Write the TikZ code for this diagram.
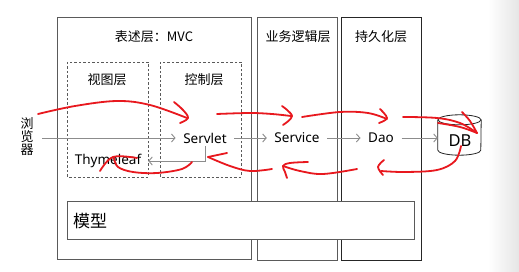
\documentclass[tikz,border=0pt]{standalone}
\usepackage{fontspec}
\setmainfont{Noto Sans}
\newfontfamily\cjk{Noto Sans CJK SC}
\usetikzlibrary{arrows.meta}
\definecolor{pen}{RGB}{232,24,30}
\definecolor{frame}{RGB}{90,90,90}
\definecolor{flowgray}{RGB}{140,140,140}
\begin{document}
\begin{tikzpicture}[x=1pt,y=-1pt,
  layer/.style={draw=frame,line width=0.9pt},
  sublayer/.style={draw=frame,dashed,line width=0.7pt,dash pattern=on 2.5pt off 2pt},
  title/.style={font=\cjk\fontsize{13}{15}\selectfont,inner sep=0pt},
  comp/.style={font=\fontsize{13.5}{15}\selectfont,inner xsep=7.5pt,inner ysep=3pt},
  flow/.style={draw=flowgray,line width=0.9pt,-{Straight Barb[length=3.5pt,width=8pt,line width=0.9pt]}},
  dbline/.style={draw=black!85,line width=0.8pt},
  ink/.style={draw=pen,line width=1.8pt,line cap=round,line join=round}]
\useasboundingbox (0,0) rectangle (519,272);
\fill[white] (0,0) rectangle (519,272);
\shade[left color=white,right color=black!10] (488,0) rectangle (519,272);

% layers
\draw[layer] (57,17) rectangle (251,259);
\draw[layer] (257,17) rectangle (337,260);
\draw[layer,draw=black!85] (341,17) rectangle (421,260);
\draw[sublayer] (67,62) rectangle (148,177);
\draw[sublayer] (160,62) rectangle (241,177);
\draw[layer,fill=white] (67,201) rectangle (414,239);

\node[title] (mvc) at (154,37) {表述层：MVC};
\node[title] (biz) at (298,37) {业务逻辑层};
\node[title] (dal) at (381,37) {持久化层};
\node[title] (view) at (107,80) {视图层};
\node[title] (ctrl) at (204,80) {控制层};
\node[title,font=\cjk\fontsize{17}{19}\selectfont,anchor=west] (model) at (73,221) {模型};

% components
\node[title,align=center,inner xsep=8.5pt,font=\cjk\fontsize{13}{13}\selectfont] (browser) at (27,137) {浏\\览\\器};
\node[comp] (servlet) at (205,138) {Servlet};
\node[comp] (service) at (297,138) {Service};
\node[comp] (dao) at (381,138) {Dao};
\node[comp,minimum width=80pt,inner xsep=0pt] (thyme) at (108,161) {Thymeleaf};

% database cylinder
\node[minimum width=43pt,minimum height=40pt,inner sep=0pt] (db) at (459.5,135) {};
\draw[dbline] ([yshift=-5pt]db.north west) -- ([yshift=5pt]db.south west)
  arc[start angle=180,end angle=0,x radius=21.5,y radius=5] -- ([yshift=-5pt]db.north east);
\draw[dbline] ([yshift=-5pt]db.north) ellipse[x radius=21.5,y radius=5];
\node[font=\fontsize{16.5}{18}\selectfont,inner sep=0pt] (dblabel) at (460,141) {DB};

\draw[flow] (browser.east |- servlet) -- (servlet.west);
\draw[flow] (servlet) -- (service);
\draw[flow] (service) -- (dao);
\draw[flow] (dao) -- (db.west |- dao);
\draw[flow] (servlet.south) |- (thyme.east);

% hand-drawn request path
\draw[ink] plot[smooth,tension=0.6] coordinates {(38,114) (75,106) (117,101) (150,105) (187,118)};
\draw[ink] plot[smooth,tension=0.6] coordinates {(174,102) (183,110) (188,118) (180,123)};
\draw[ink] plot[smooth,tension=0.6] coordinates {(217,114) (250,113) (272,114) (291,116)};
\draw[ink] plot[smooth,tension=0.6] coordinates {(282,106) (292,116) (283,125)};
\draw[ink] plot[smooth,tension=0.6] coordinates {(302,117) (340,112) (368,113) (387,119)};
\draw[ink] plot[smooth,tension=0.6] coordinates {(380,109) (387,118) (379,123)};
\draw[ink] plot[smooth,tension=0.6] coordinates {(403,117) (437,118) (460,123) (477,133)};
\draw[ink] plot[smooth,tension=0.6] coordinates {(462,112) (470,121) (477,133)};
\draw[ink] plot[smooth,tension=0.6] coordinates {(438,123) (460,127) (477,133)};
% hand-drawn response path
\draw[ink] plot[smooth,tension=0.6] coordinates {(461,146) (455,161) (437,170) (405,172) (381,171)};
\draw[ink] plot[smooth,tension=0.6] coordinates {(384,160) (378,167) (383,175)};
\draw[ink] plot[smooth,tension=0.6] coordinates {(357,169) (323,174) (300,171) (283,166)};
\draw[ink] plot[smooth,tension=0.6] coordinates {(308,162) (290,163) (283,166) (285,172) (287,178)};
\draw[ink] plot[smooth,tension=0.6] coordinates {(272,169) (250,171) (230,166) (208,157)};
\draw[ink] (227,153) -- (208,157);
\draw[ink] plot[smooth,tension=0.6] coordinates {(192,162) (182,169) (157,173) (133,172) (118,167) (114,158)};
\draw[ink] plot[smooth,tension=0.6] coordinates {(137,158) (113,157) (100,171)};
\end{tikzpicture}
\end{document}
